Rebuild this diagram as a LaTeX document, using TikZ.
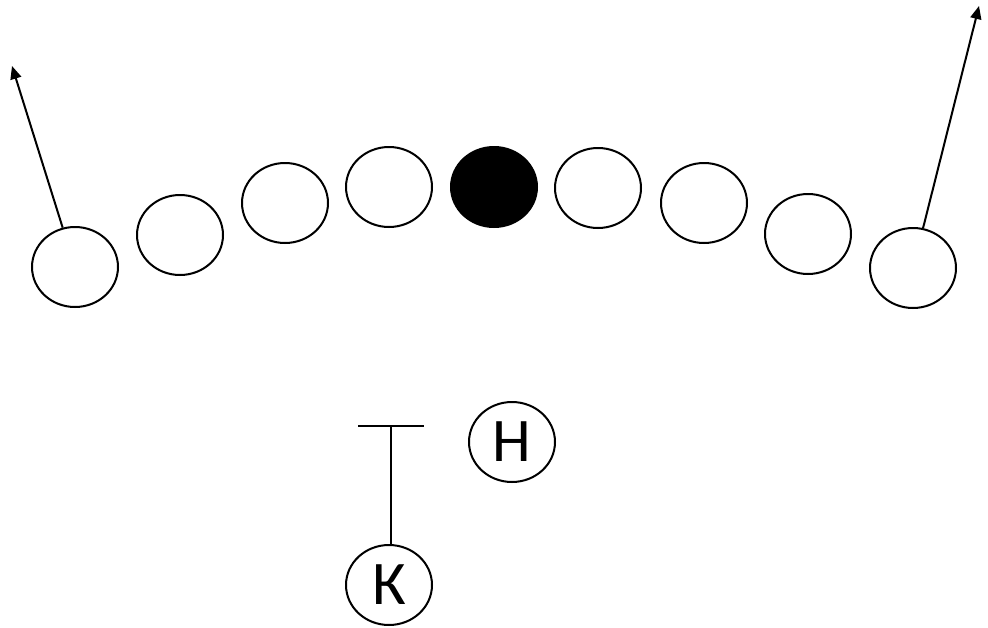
\documentclass[tikz,border=0pt]{standalone}
\usepackage{fontspec}
\setmainfont{Carlito}
\usetikzlibrary{arrows.meta}
\usetikzlibrary{shapes.geometric}
\tikzset{player/.style = {draw, ellipse, line width = 2pt, inner sep = 0, minimum width = 86, minimum height = 80, font = \fontsize{62}{64}\selectfont}}
\tikzset{route/.style = {line width = 2pt}}
\tikzset{runtip/.style = {-{Triangle[length = 13pt, width = 11pt]}}}

\begin{document}
\begin{tikzpicture}[x=1pt, y=-1pt]
          \useasboundingbox (0, 0) rectangle (988, 627);

          \node [player] (p1) at (75, 267) {};
          \node [player] (p2) at (180, 235) {};
          \node [player] (p3) at (285, 203) {};
          \node [player] (p4) at (389, 187) {};
          \node [player, fill] (c) at (494, 187) {};
          \node [player] (p6) at (598, 188) {};
          \node [player] (p7) at (704, 203) {};
          \node [player] (p8) at (808, 234) {};
          \node [player] (p9) at (913, 268) {};

          \node [player] (h) at (512, 442) {Н};
          \node [player] (k) at (389, 585) {К};

          \coordinate (tipL) at (12, 66);
          \coordinate (tipR) at (979, 6);
          \draw [route, runtip] (p1) -- (tipL);
          \draw [route, runtip] (p9) -- (tipR);

          \coordinate (blk) at (391, 426);
          \coordinate (blkL) at (358, 426);
          \coordinate (blkR) at (424, 426);
          \draw [route] (blk |- k.north) -- (blk);
          \draw [route] (blkL) -- (blkR);
        \end{tikzpicture}
\end{document}
